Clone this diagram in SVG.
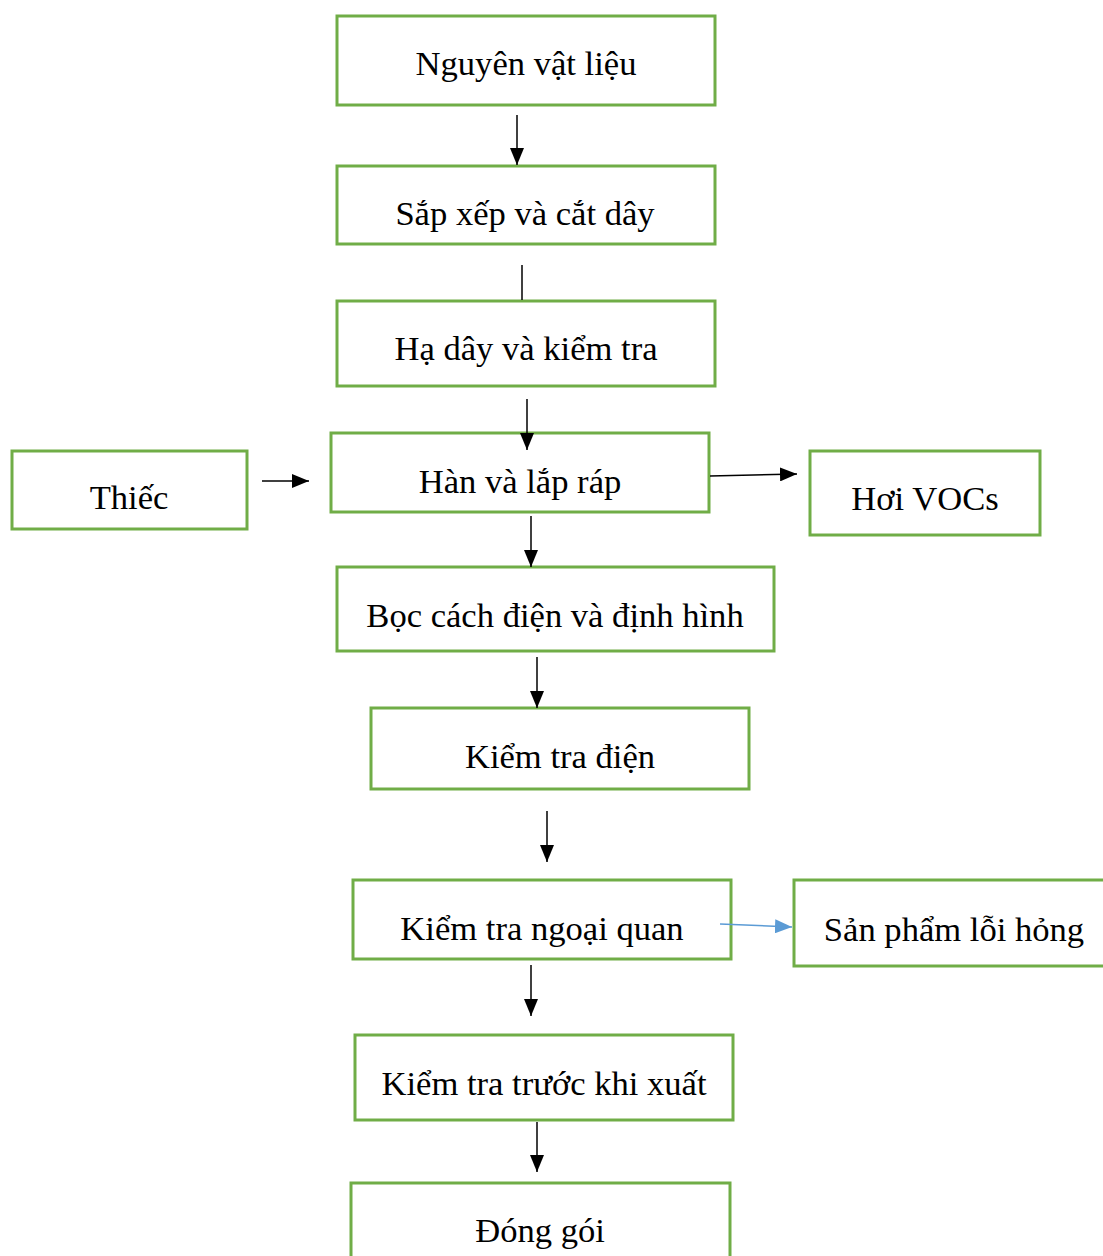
<svg xmlns="http://www.w3.org/2000/svg" width="1103" height="1256" viewBox="0 0 1103 1256">
<style>
.box{fill:#fff;stroke:#70AD47;stroke-width:3}
.t{font-family:"Liberation Serif","Times New Roman",serif;font-size:34.6px;fill:#000;text-anchor:middle}
.c{stroke:#000;stroke-width:1.5;fill:none}
.cb{stroke:#5B9BD5;stroke-width:1.5;fill:none}
</style>
<defs>
<marker id="ah" markerUnits="userSpaceOnUse" markerWidth="18" markerHeight="14" refX="17" refY="7" orient="auto">
<path d="M0,0 L17,7 L0,14 Z" fill="#000"/>
</marker>
<marker id="ahb" markerUnits="userSpaceOnUse" markerWidth="18" markerHeight="14" refX="17" refY="7" orient="auto">
<path d="M0,0 L17,7 L0,14 Z" fill="#5B9BD5"/>
</marker>
</defs>
<rect width="1103" height="1256" fill="#fff"/>
<g id="n1"><rect class="box" x="337" y="16" width="378" height="89"/><text class="t" x="526" y="75">Nguyên vật liệu</text></g>
<g id="n2"><rect class="box" x="337" y="166" width="378" height="78"/><text class="t" x="525" y="225">Sắp xếp và cắt dây</text></g>
<g id="n3"><rect class="box" x="337" y="301" width="378" height="85"/><text class="t" x="526" y="360">Hạ dây và kiểm tra</text></g>
<g id="n4"><rect class="box" x="331" y="433" width="378" height="79"/><text class="t" x="520" y="493">Hàn và lắp ráp</text></g>
<g id="thiec"><rect class="box" x="12" y="451" width="235" height="78"/><text class="t" x="129" y="509">Thiếc</text></g>
<g id="voc"><rect class="box" x="810" y="451" width="230" height="84"/><text class="t" x="925" y="510">Hơi VOCs</text></g>
<g id="n5"><rect class="box" x="337" y="567" width="437" height="84"/><text class="t" x="555" y="627">Bọc cách điện và định hình</text></g>
<g id="n6"><rect class="box" x="371" y="708" width="378" height="81"/><text class="t" x="560" y="768">Kiểm tra điện</text></g>
<g id="n7"><rect class="box" x="353" y="880" width="378" height="79"/><text class="t" x="542" y="940">Kiểm tra ngoại quan</text></g>
<g id="defect"><rect class="box" x="794" y="880" width="330" height="86"/><text class="t" x="954" y="941">Sản phẩm lỗi hỏng</text></g>
<g id="n8"><rect class="box" x="355" y="1035" width="378" height="85"/><text class="t" x="544" y="1095">Kiểm tra trước khi xuất</text></g>
<g id="n9"><rect class="box" x="351" y="1183" width="379" height="100"/><text class="t" x="540" y="1242">Đóng gói</text></g>
<g id="connectors">
<line class="c" x1="517" y1="115" x2="517" y2="165" marker-end="url(#ah)"/>
<line class="c" x1="522" y1="265" x2="522" y2="300"/>
<line class="c" x1="527" y1="399" x2="527" y2="450" marker-end="url(#ah)"/>
<line class="c" x1="262" y1="481" x2="309" y2="481" marker-end="url(#ah)"/>
<line class="c" x1="710" y1="476" x2="797" y2="474" marker-end="url(#ah)"/>
<line class="c" x1="531" y1="516" x2="531" y2="567" marker-end="url(#ah)"/>
<line class="c" x1="537" y1="657" x2="537" y2="708" marker-end="url(#ah)"/>
<line class="c" x1="547" y1="811" x2="547" y2="862" marker-end="url(#ah)"/>
<line class="cb" x1="720" y1="924" x2="792" y2="927" marker-end="url(#ahb)"/>
<line class="c" x1="531" y1="965" x2="531" y2="1016" marker-end="url(#ah)"/>
<line class="c" x1="537" y1="1122" x2="537" y2="1172" marker-end="url(#ah)"/>
</g>
</svg>
